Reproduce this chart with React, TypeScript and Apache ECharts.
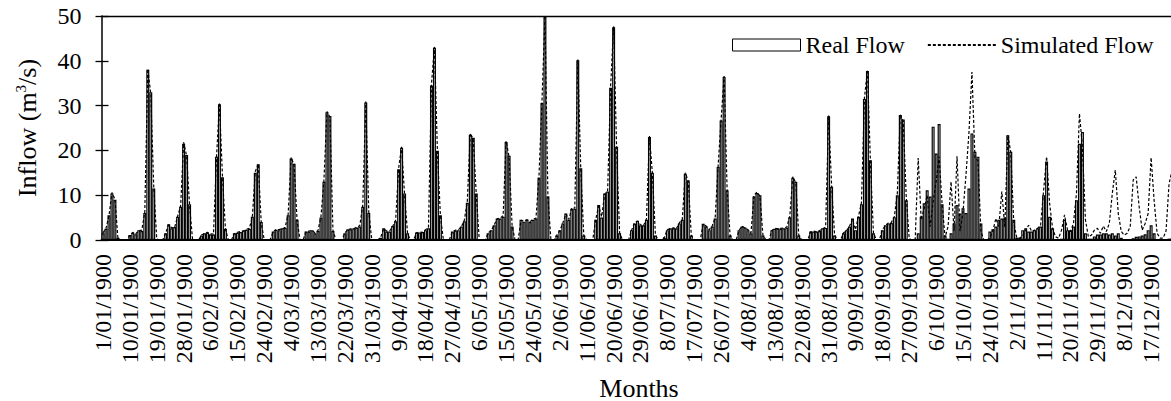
import React, { useEffect, useRef } from "react";
import * as echarts from "echarts";

const FONT = "'Liberation Serif', 'Times New Roman', serif";

// Visible tick labels (Excel serial numbers 1..360 shown as dates, every 9th)
const TICK_LABELS = [
  "1/01/1900", "10/01/1900", "19/01/1900", "28/01/1900", "6/02/1900", "15/02/1900", "24/02/1900", "4/03/1900",
  "13/03/1900", "22/03/1900", "31/03/1900", "9/04/1900", "18/04/1900", "27/04/1900", "6/05/1900", "15/05/1900",
  "24/05/1900", "2/06/1900", "11/06/1900", "20/06/1900", "29/06/1900", "8/07/1900", "17/07/1900", "26/07/1900",
  "4/08/1900", "13/08/1900", "22/08/1900", "31/08/1900", "9/09/1900", "18/09/1900", "27/09/1900", "6/10/1900",
  "15/10/1900", "24/10/1900", "2/11/1900", "11/11/1900", "20/11/1900", "29/11/1900", "8/12/1900", "17/12/1900",
];

// Real flow (m3/s), 360 monthly values, 12 per row
const REAL_FLOW = [
  1.5, 2.5, 5.5, 10.4, 9.0, 0.5, 0, 0, 0, 1.1, 1.6, 1.3,
  2.2, 2.0, 6.0, 38.0, 33.0, 11.5, 0, 0, 0, 1.5, 3.5, 2.6,
  2.9, 5.2, 7.4, 21.5, 19.0, 8.0, 0, 0, 0, 1.0, 1.5, 1.6,
  1.3, 1.2, 18.6, 30.3, 14.0, 2.5, 0, 0, 1.5, 1.6, 1.8, 2.1,
  2.3, 2.5, 5.2, 15.0, 16.9, 4.0, 0, 0, 0, 1.9, 2.3, 2.2,
  2.6, 2.7, 5.5, 18.2, 17.0, 4.5, 0, 0, 1.9, 1.9, 2.2, 1.5,
  2.0, 5.0, 13.0, 28.5, 27.7, 2.0, 0, 0, 0, 1.5, 2.4, 2.4,
  2.6, 2.8, 3.0, 7.4, 30.7, 6.0, 0, 0, 0, 0.5, 2.6, 1.9,
  1.9, 3.1, 4.2, 15.8, 20.6, 10.4, 1.5, 0, 0, 1.7, 1.7, 1.8,
  2.2, 2.6, 34.5, 42.9, 19.9, 5.5, 0, 0, 0, 1.9, 2.1, 2.2,
  3.0, 4.2, 8.3, 23.5, 22.8, 10.4, 0, 0, 0, 1.5, 2.2, 3.3,
  4.8, 4.8, 5.2, 21.9, 18.8, 3.0, 0, 0, 4.5, 4.1, 4.6, 4.0,
  4.5, 4.8, 13.9, 30.6, 49.8, 9.7, 0, 0, 1.0, 2.2, 3.7, 5.9,
  4.5, 7.0, 7.0, 40.1, 16.0, 1.0, 0, 0, 0, 4.5, 7.8, 5.0,
  10.4, 10.8, 34.0, 47.5, 20.8, 1.5, 0, 0, 0, 2.2, 3.7, 4.3,
  3.3, 3.3, 4.5, 23.0, 15.0, 1.0, 0, 0, 0.5, 2.2, 2.6, 2.6,
  2.6, 3.7, 4.5, 14.8, 13.3, 1.0, 0, 0, 0, 3.6, 3.0, 2.2,
  3.0, 4.8, 16.3, 26.7, 36.4, 11.1, 1.0, 0, 0, 2.2, 3.0, 2.8,
  2.2, 1.5, 9.7, 10.5, 10.0, 1.0, 0, 0, 2.2, 2.5, 2.6, 2.5,
  2.6, 2.8, 5.1, 13.9, 13.0, 1.0, 0, 0, 0, 1.9, 1.9, 1.9,
  2.0, 2.6, 2.7, 27.6, 11.9, 1.0, 0, 0, 1.5, 2.2, 3.0, 4.8,
  2.2, 5.2, 8.0, 31.5, 37.7, 17.8, 1.5, 0, 0, 2.2, 3.3, 3.7,
  3.8, 5.1, 10.0, 27.9, 26.9, 8.9, 0, 0, 0, 1.5, 5.2, 8.2,
  11.1, 9.7, 25.3, 19.3, 25.9, 8.0, 1.0, 0.3, 1.5, 3.7, 7.8, 5.9,
  7.1, 6.0, 11.5, 23.8, 19.7, 18.6, 3.7, 0, 0, 1.9, 2.4, 3.0,
  4.5, 4.8, 5.0, 23.4, 19.7, 4.5, 0.5, 0.5, 2.2, 2.6, 1.9, 1.9,
  2.2, 2.6, 3.0, 10.0, 17.5, 5.2, 2.6, 0, 0, 0.3, 4.5, 2.2,
  2.2, 3.0, 8.9, 21.5, 24.1, 1.5, 0.3, 0.3, 0.8, 1.2, 1.2, 1.5,
  1.5, 1.2, 1.5, 1.0, 1.5, 0.5, 0, 0, 0.2, 0.4, 0.7, 0.8,
  1.0, 1.3, 2.2, 3.3, 1.5, 0.2, 0, 0, 0.2, 0.3, 0.4, 0.5,
];

// Simulated flow (m3/s), 360 monthly values, 12 per row
const SIMULATED_FLOW = [
  1.6, 2.6, 5.4, 10.6, 9.1, 0.4, 0, 0, 0.1, 1.0, 1.7, 1.4,
  2.1, 2.2, 6.2, 38.2, 32.6, 11.8, 0.2, 0, 0, 1.6, 3.4, 2.7,
  2.8, 5.3, 7.6, 21.8, 18.8, 7.6, 0.1, 0, 0, 1.1, 1.4, 1.7,
  1.4, 1.3, 18.2, 30.6, 14.3, 2.4, 0, 0, 1.4, 1.7, 1.9, 2.0,
  2.4, 2.6, 5.0, 15.3, 17.0, 3.8, 0, 0, 0.1, 1.8, 2.4, 2.3,
  2.5, 2.8, 5.7, 18.4, 16.8, 4.3, 0, 0, 1.8, 2.0, 2.1, 1.6,
  2.1, 5.2, 13.4, 28.7, 27.4, 2.2, 0, 0, 0, 1.6, 2.3, 2.5,
  2.5, 2.9, 3.2, 7.8, 30.9, 6.3, 0.1, 0, 0, 0.6, 2.5, 2.0,
  2.0, 3.0, 4.4, 16.0, 20.8, 10.1, 1.4, 0, 0, 1.6, 1.8, 1.7,
  2.3, 2.7, 34.8, 43.1, 19.6, 5.3, 0, 0, 0.1, 1.8, 2.2, 2.3,
  2.9, 4.4, 8.6, 23.8, 22.5, 10.2, 0.1, 0, 0, 1.6, 2.1, 3.4,
  4.7, 4.9, 5.4, 22.1, 18.5, 3.2, 0, 0, 4.4, 4.2, 4.5, 4.1,
  4.6, 4.9, 14.2, 30.8, 50.0, 9.5, 0.1, 0, 1.1, 2.1, 3.8, 5.8,
  4.6, 7.2, 7.1, 40.3, 15.7, 1.1, 0, 0, 0, 4.6, 7.6, 5.2,
  10.2, 11.0, 34.3, 47.7, 20.5, 1.6, 0, 0, 0, 2.1, 3.8, 4.2,
  3.4, 3.2, 4.7, 23.2, 14.7, 1.1, 0, 0, 0.6, 2.3, 2.5, 2.7,
  2.5, 3.8, 4.6, 15.0, 13.1, 1.1, 0, 0, 0, 3.5, 3.1, 2.3,
  3.1, 4.9, 16.5, 26.9, 36.6, 11.4, 1.1, 0, 0, 2.1, 3.1, 2.7,
  2.3, 1.6, 9.9, 10.7, 9.8, 1.1, 0, 0, 2.1, 2.6, 2.5, 2.6,
  2.7, 2.9, 5.3, 14.1, 12.8, 1.1, 0, 0, 0, 1.8, 2.0, 1.8,
  2.1, 2.5, 2.9, 27.8, 12.2, 1.1, 0, 0, 1.6, 2.1, 3.1, 4.7,
  2.3, 5.3, 8.3, 31.7, 37.9, 17.5, 1.6, 0, 0, 2.3, 3.2, 3.8,
  3.9, 5.2, 10.3, 28.0, 26.5, 9.5, 0.3, 0, 0.2, 18.3, 4.5, 7.0,
  10.0, 3.0, 8.5, 13.0, 18.6, 8.0, 0.6, 3.0, 13.0, 2.0, 18.7, 2.0,
  6.2, 14.5, 24.0, 37.5, 18.4, 17.7, 2.0, 0, 0, 0.5, 2.0, 4.8,
  3.0, 10.8, 2.9, 23.4, 19.6, 3.9, 0.5, 0.4, 1.0, 2.2, 3.3, 1.9,
  2.2, 2.6, 3.3, 11.1, 18.6, 8.2, 2.6, 0.7, 0.4, 2.2, 5.6, 2.2,
  1.9, 3.7, 10.4, 28.2, 20.8, 4.5, 0.7, 1.1, 2.2, 2.6, 1.5, 3.1,
  1.9, 3.7, 10.4, 15.6, 5.9, 1.9, 1.1, 1.5, 3.0, 13.4, 14.1, 7.4,
  2.2, 3.7, 5.9, 18.4, 8.9, 1.5, 0.4, 0.4, 2.0, 12.5, 15.5, 12.0,
];

// Category = Excel serial number (1..360)
const CATEGORIES = REAL_FLOW.map((_, i) => String(i + 1));

const Y_MIN = 0;
const Y_MAX = 50;
const Y_STEP = 10;

export default function App() {
  const ref = useRef<HTMLDivElement>(null);

  useEffect(() => {
    if (!ref.current) return;
    const chart = echarts.init(ref.current, null, { renderer: "svg" });
    chart.setOption({
      animation: false,
      backgroundColor: "#ffffff",
      textStyle: { fontFamily: FONT, color: "#000" },
      grid: {
        left: 101.5,
        top: 16,
        width: 1075,
        bottom: 161,
        containLabel: false,
        outerBoundsMode: "none",
      },
      legend: {
        left: 727,
        top: 28,
        padding: 5,
        itemWidth: 68,
        itemHeight: 12,
        itemGap: 22,
        textStyle: { fontFamily: FONT, fontSize: 24, color: "#000" },
        data: [
          { name: "Real Flow", icon: "rect", itemStyle: { color: "#fff", borderColor: "#000", borderWidth: 1 } },
          { name: "Simulated Flow", itemStyle: { opacity: 0 } },
        ],
      },
      xAxis: [
        {
          type: "category",
          data: CATEGORIES,
          boundaryGap: true,
          axisLine: { show: true, lineStyle: { color: "#000", width: 2 } },
          axisTick: { show: false },
          splitLine: { show: false },
          axisLabel: {
            interval: 8,
            rotate: 90,
            margin: 14,
            fontSize: 24,
            fontFamily: FONT,
            color: "#000",
            formatter: (_v: string, i: number) => TICK_LABELS[i / 9] ?? "",
          },
          name: "Months",
          nameLocation: "middle",
          nameGap: 135,
          nameTextStyle: { fontFamily: FONT, fontSize: 26, color: "#000" },
        },
        {
          type: "category",
          data: CATEGORIES,
          position: "top",
          axisLine: { show: true, onZero: false, lineStyle: { color: "#000", width: 1.3 } },
          axisTick: { show: false },
          axisLabel: { show: false },
          splitLine: { show: false },
        },
      ],
      yAxis: [
        {
          type: "value",
          min: Y_MIN,
          max: Y_MAX,
          interval: Y_STEP,
          axisLine: { show: true, lineStyle: { color: "#000", width: 1.5 } },
          axisTick: { show: true, length: 6, lineStyle: { color: "#000", width: 1.3 } },
          splitLine: { show: false },
          axisLabel: { margin: 20, fontSize: 24, fontFamily: FONT, color: "#000" },
          name: "{t|Inflow (m}{s|3}{t|/s)}",
          nameLocation: "middle",
          nameGap: 60,
          nameTextStyle: {
            rich: {
              t: { fontFamily: FONT, fontSize: 26, color: "#000", lineHeight: 28 },
              s: { fontFamily: FONT, fontSize: 15, color: "#000", verticalAlign: "top", lineHeight: 15 },
            },
          },
        },
        {
          type: "value",
          min: Y_MIN,
          max: Y_MAX,
          interval: Y_STEP,
          position: "left",
          axisLine: { show: false },
          axisTick: { show: true, inside: true, length: 7, lineStyle: { color: "#000", width: 1.3 } },
          axisLabel: { show: false },
          splitLine: { show: false },
        },
      ],
      series: [
        {
          name: "Real Flow",
          type: "bar",
          data: REAL_FLOW,
          barCategoryGap: "0%",
          itemStyle: { color: "#ffffff", borderColor: "#000000", borderWidth: 1.2 },
          z: 2,
        },
        {
          name: "Simulated Flow",
          type: "line",
          data: SIMULATED_FLOW,
          symbol: "none",
          lineStyle: { color: "#000", width: 1.2, type: [3, 2] },
          itemStyle: { color: "#000" },
          z: 3,
        },
      ],
    });
    return () => chart.dispose();
  }, []);

  return (
    <div
      ref={ref}
      style={{ position: "absolute", left: 0, top: 0, width: 1171, height: 401, background: "#fff" }}
    />
  );
}
